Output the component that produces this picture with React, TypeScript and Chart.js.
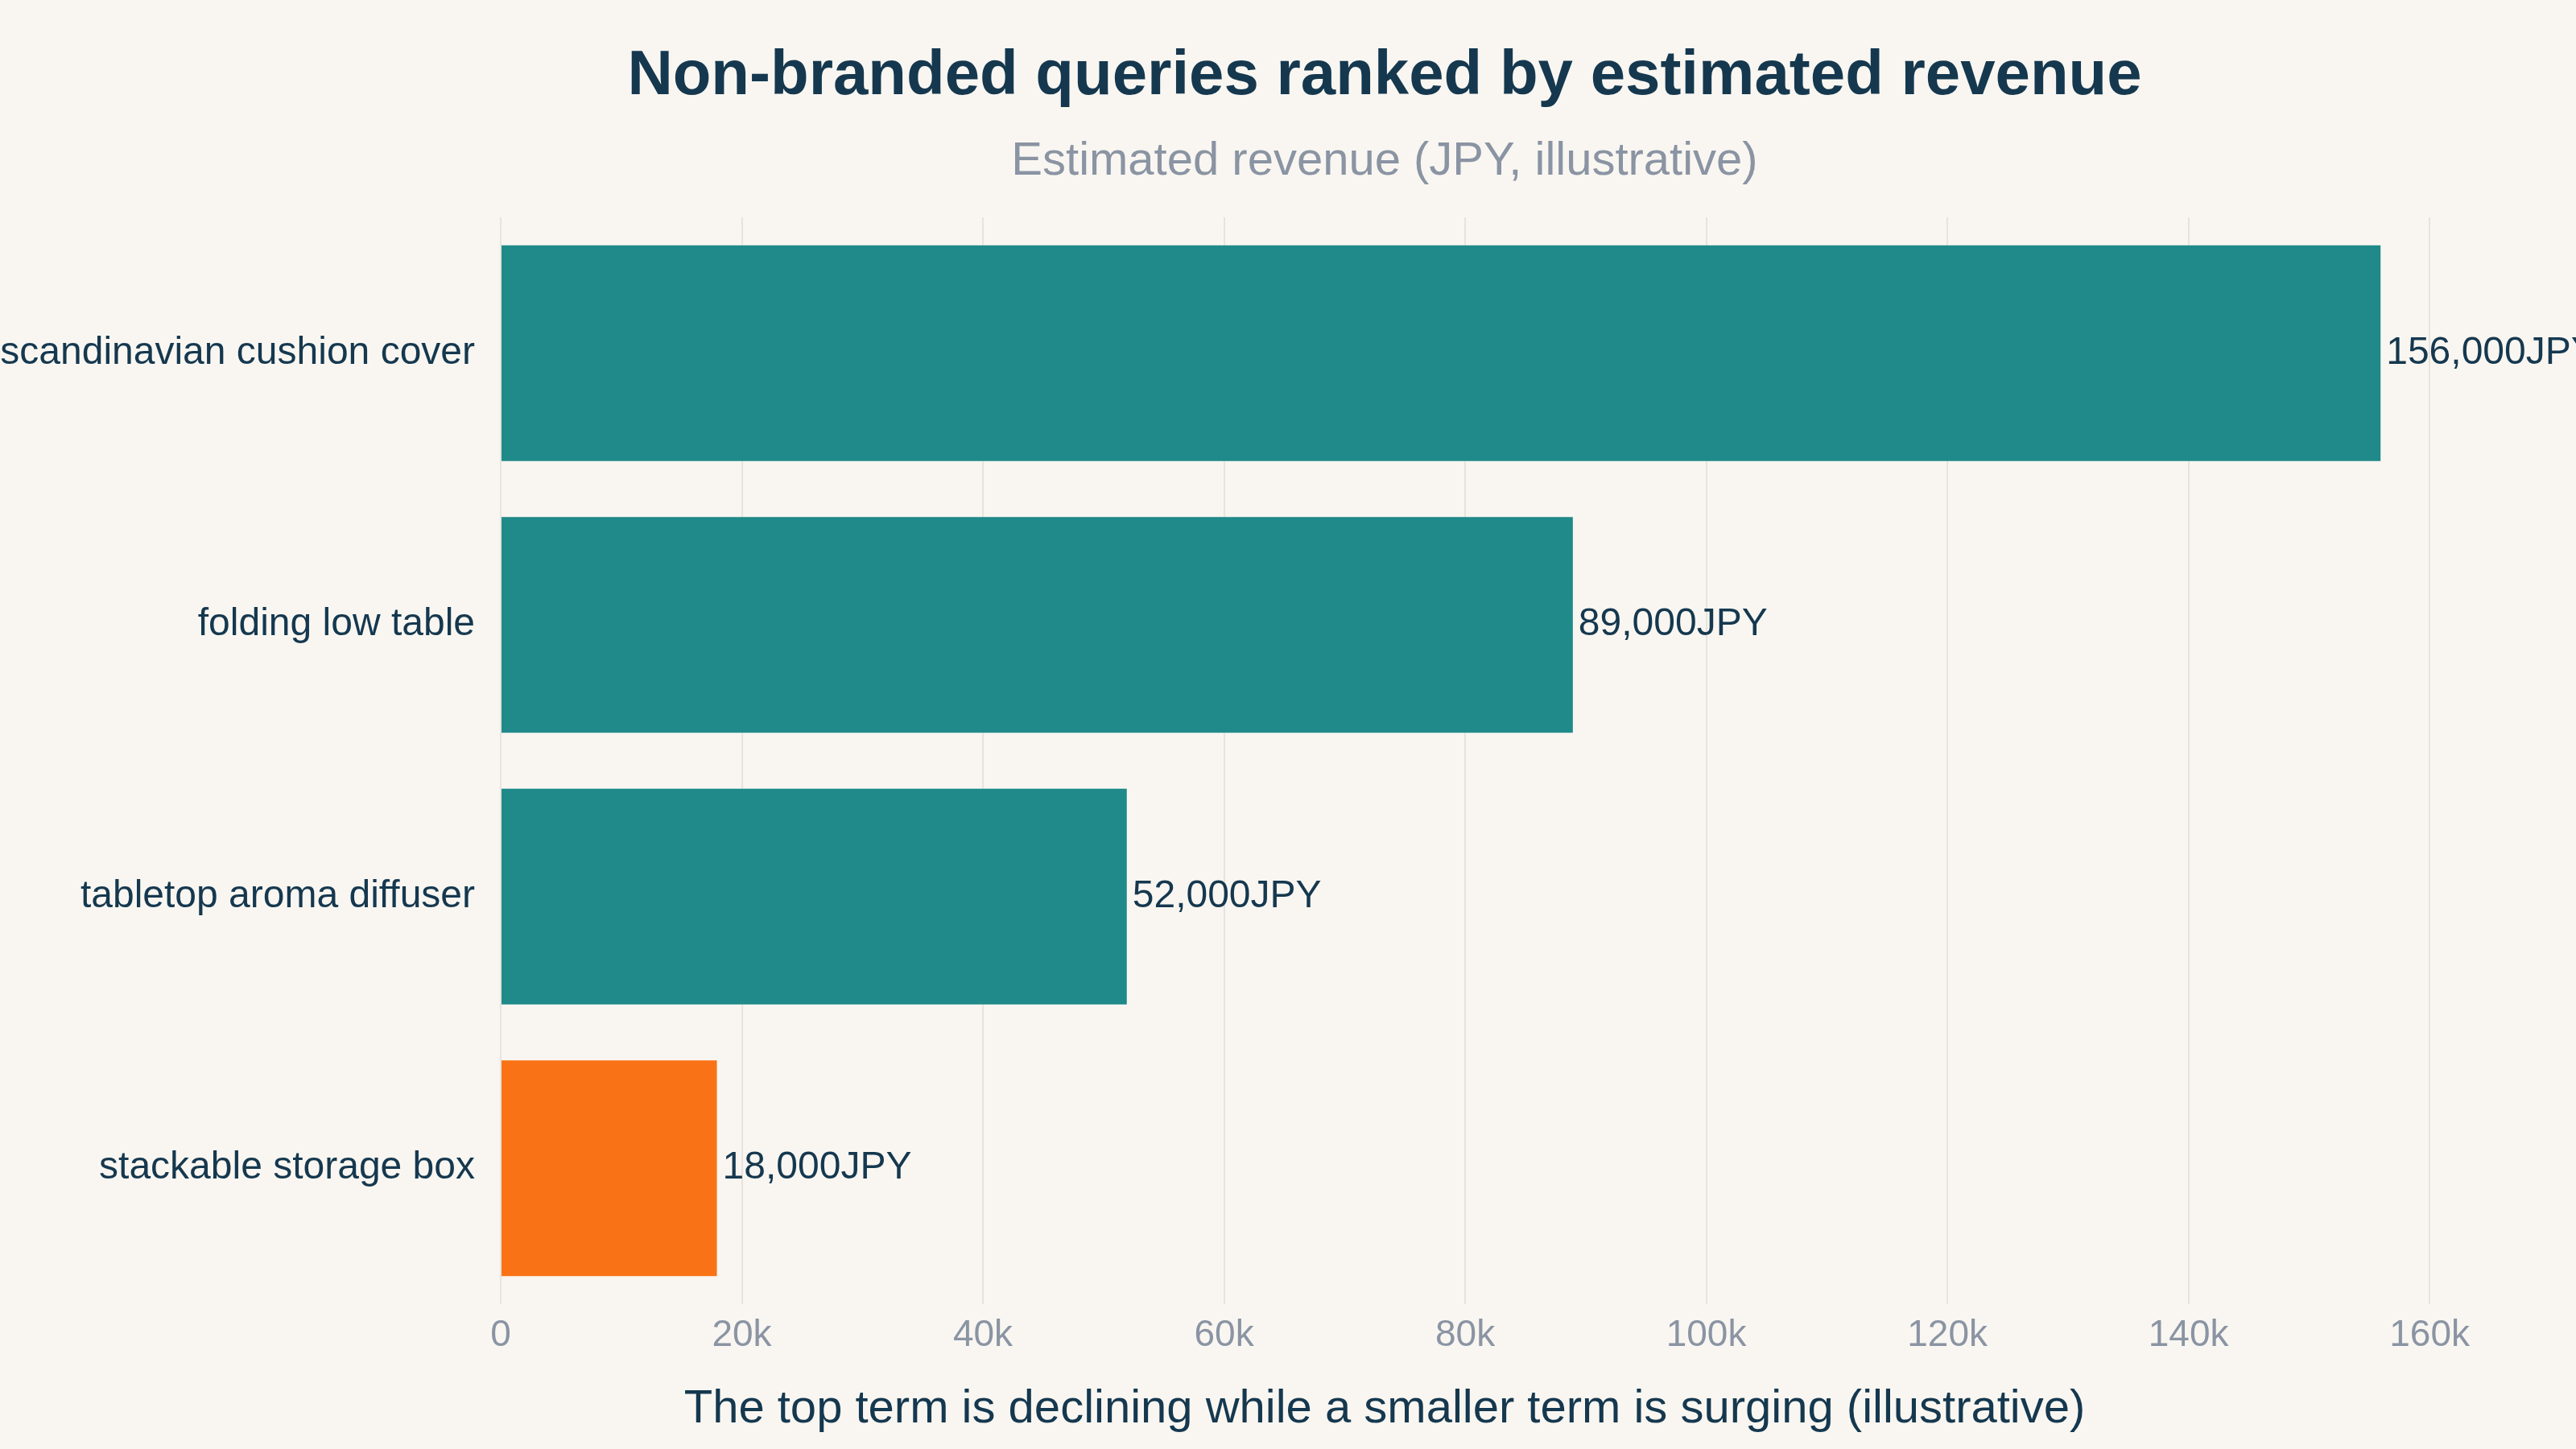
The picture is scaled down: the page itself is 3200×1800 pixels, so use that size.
import React, { useEffect, useRef } from "react";
import { Chart, registerables } from "chart.js";

Chart.register(...registerables);

// ---- data ----
const queries = [
  "scandinavian cushion cover",
  "folding low table",
  "tabletop aroma diffuser",
  "stackable storage box",
];
const revenueJpy = [156000, 89000, 52000, 18000];
const barColors = ["#1f8a89", "#1f8a89", "#1f8a89", "#f97316"];
const xTickValues = [0, 20000, 40000, 60000, 80000, 100000, 120000, 140000, 160000];
const xMax = 165000;

const titleText = "Non-branded queries ranked by estimated revenue";
const subtitleText = "Estimated revenue (JPY, illustrative)";
const captionText = "The top term is declining while a smaller term is surging (illustrative)";

// ---- style ----
const FONT = '"Liberation Sans", Arial, Helvetica, sans-serif';
const NAVY = "#15384f";
const GREY = "#8a94a3";
const BG = "#f9f6f1";
const GRID = "#e7e3dd";
const W = 3200;
const H = 1800;

const fmtTick = (v: number) => (v === 0 ? "0" : `${v / 1000}k`);
const fmtValue = (v: number) => `${v.toLocaleString("en-US")}JPY`;

const backgroundPlugin = {
  id: "pageBackground",
  beforeDraw(chart: any) {
    const { ctx } = chart;
    ctx.save();
    ctx.fillStyle = BG;
    ctx.fillRect(0, 0, chart.width, chart.height);
    ctx.restore();
  },
};

const headingsPlugin = {
  id: "headings",
  afterDraw(chart: any) {
    const { ctx } = chart;
    ctx.save();
    ctx.textAlign = "center";
    ctx.textBaseline = "alphabetic";
    ctx.fillStyle = NAVY;
    ctx.font = `bold 78px ${FONT}`;
    ctx.fillText(titleText, 1720, 117);
    ctx.fillStyle = GREY;
    ctx.font = `58px ${FONT}`;
    ctx.fillText(subtitleText, 1720, 217);
    ctx.fillStyle = NAVY;
    ctx.font = `58px ${FONT}`;
    ctx.fillText(captionText, 1720, 1767);
    ctx.restore();
  },
};

const valueLabelPlugin = {
  id: "valueLabels",
  afterDatasetsDraw(chart: any) {
    const { ctx } = chart;
    const meta = chart.getDatasetMeta(0);
    ctx.save();
    ctx.fillStyle = NAVY;
    ctx.font = `48px ${FONT}`;
    ctx.textAlign = "left";
    ctx.textBaseline = "middle";
    meta.data.forEach((bar: any, i: number) => {
      ctx.fillText(fmtValue(revenueJpy[i]), bar.x + 6, bar.y);
    });
    ctx.restore();
  },
};

export default function App() {
  const canvasRef = useRef<HTMLCanvasElement | null>(null);

  useEffect(() => {
    document.body.style.margin = "0";
    document.body.style.background = BG;
    const canvas = canvasRef.current;
    if (!canvas) return;

    const chart = new Chart(canvas, {
      type: "bar",
      data: {
        labels: queries,
        datasets: [
          {
            data: revenueJpy,
            backgroundColor: barColors,
            borderColor: "rgba(255,255,255,0.35)",
            borderWidth: 1,
            categoryPercentage: 1,
            barPercentage: 0.8,
          },
        ],
      },
      options: {
        indexAxis: "y",
        responsive: false,
        devicePixelRatio: 1,
        animation: false,
        layout: { padding: { top: 270, right: W - 3093, bottom: 0, left: 0 } },
        plugins: {
          legend: { display: false },
          title: { display: false },
          tooltip: { enabled: false },
        },
        scales: {
          x: {
            type: "linear",
            min: 0,
            max: xMax,
            afterBuildTicks: (scale: any) => {
              scale.ticks = xTickValues.map((v) => ({ value: v }));
            },
            afterFit: (scale: any) => {
              scale.height = 180;
            },
            grid: { color: GRID, lineWidth: 2, drawTicks: false },
            border: { display: false },
            ticks: {
              padding: 12,
              color: GREY,
              font: { family: FONT, size: 46 },
              callback: (v: any) => fmtTick(Number(v)),
              maxRotation: 0,
            },
          },
          y: {
            type: "category",
            afterFit: (scale: any) => {
              scale.width = 622;
            },
            grid: { display: false, drawTicks: false },
            border: { display: false },
            ticks: {
              padding: 32,
              color: NAVY,
              font: { family: FONT, size: 48 },
            },
          },
        },
      },
      plugins: [backgroundPlugin, valueLabelPlugin, headingsPlugin],
    });

    return () => chart.destroy();
  }, []);

  return (
    <canvas
      ref={canvasRef}
      width={W}
      height={H}
      style={{ display: "block", width: `${W}px`, height: `${H}px` }}
    />
  );
}
